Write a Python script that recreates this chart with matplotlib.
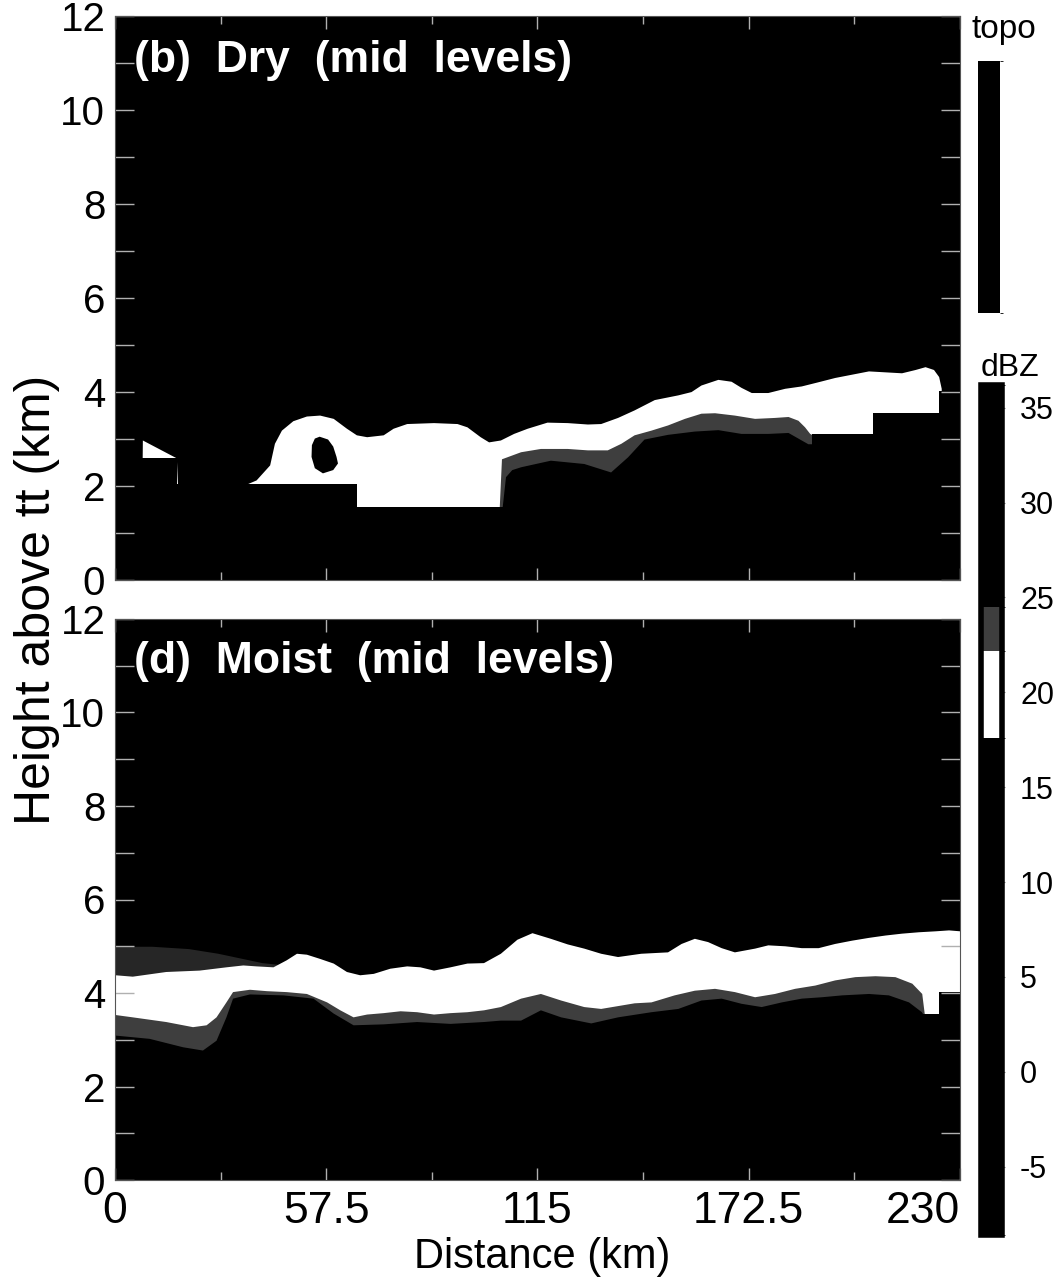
import matplotlib
matplotlib.use("Agg")
import matplotlib.pyplot as plt
from matplotlib.colors import ListedColormap, BoundaryNorm
from matplotlib.cm import ScalarMappable
from matplotlib.ticker import MultipleLocator

plt.rcParams['font.family'] = ['Liberation Sans', 'DejaVu Sans']

# ---------------------------------------------------------------------------
# Reflectivity classes (dBZ) and their grey shades
dbz_bounds = [-8.6, 17.6, 22.2, 24.5, 36.2]
dbz_colors = ['#000000', '#ffffff', '#3e3e3e', '#000000']
dbz_ticks = [-5, 0, 5, 10, 15, 20, 25, 30, 35]

# Terrain height (km) along the section, stepwise (value holds until next x)
topo_x = [0.0, 17.0, 66.0, 189.6, 206.4, 224.4, 230.0]
topo_z = [2.60, 2.04, 1.56, 3.10, 3.55, 4.03, 4.03]

# --- Dry case (mid levels) -------------------------------------------------
# upper edge of the weakest plotted echo class
dry_top_x = [0.0, 7.4, 7.45, 16.7, 17.0, 35.7, 38.4, 42.1, 43.4, 45.3, 48.4,
             52.1, 55.7, 59.4, 63.0, 65.7, 68.5, 73.0, 75.7, 79.4, 86.7, 93.1,
             95.8, 99.4, 101.7, 104.9, 108.5, 112.2, 117.6, 123.1, 128.6,
             132.2, 136.8, 141.3, 146.8, 153.2, 156.8, 159.5, 164.1, 167.7,
             170.4, 173.2, 177.7, 182.3, 186.8, 191.4, 195.9, 200.5, 205.1,
             209.6, 214.1, 217.8, 220.5, 222.8, 224.2, 224.9, 225.0, 230.0]
dry_top_z = [2.60, 2.60, 2.98, 2.60, 2.04, 2.04, 2.13, 2.45, 2.91, 3.19, 3.39,
             3.49, 3.51, 3.44, 3.23, 3.09, 3.05, 3.09, 3.23, 3.33, 3.35, 3.33,
             3.26, 3.05, 2.94, 2.98, 3.12, 3.23, 3.36, 3.35, 3.32,
             3.33, 3.46, 3.62, 3.84, 3.94, 4.01, 4.15, 4.27, 4.23,
             4.10, 3.99, 3.99, 4.08, 4.13, 4.22, 4.31, 4.38, 4.45,
             4.43, 4.41, 4.48, 4.54, 4.48, 4.33, 4.08, 3.00, 3.00]
# upper edge of the grey class
dry_mid_x = [104.6, 105.2, 110.4, 115.8, 123.1, 128.6, 134.0, 137.7, 141.3,
             145.9, 150.4, 155.0, 159.5, 163.2, 168.6, 174.1, 179.5, 183.2,
             185.9, 187.7, 189.1, 189.6]
dry_mid_z = [1.56, 2.58, 2.73, 2.80, 2.80, 2.77, 2.77, 2.91, 3.09,
             3.19, 3.30, 3.44, 3.55, 3.56, 3.51, 3.44, 3.46, 3.48,
             3.40, 3.26, 3.12, 3.10]
# upper edge of the strongest class
dry_low_x = [105.4, 106.3, 108.0, 110.4, 118.5, 127.6, 134.9, 139.5, 144.0,
             150.4, 157.7, 164.1, 170.4, 177.7, 183.2, 186.8, 188.6, 189.6]
dry_low_z = [1.56, 2.20, 2.35, 2.41, 2.55, 2.48, 2.30, 2.62, 3.00,
             3.10, 3.17, 3.20, 3.12, 3.12, 3.14, 2.98, 2.90, 2.90]
# embedded high-reflectivity core
dry_core_x = [55.7, 58.0, 59.4, 60.3, 60.7, 59.4, 56.6, 54.4, 53.5, 53.6, 54.4]
dry_core_z = [3.05, 2.99, 2.84, 2.62, 2.48, 2.34, 2.27, 2.38, 2.62, 2.87, 3.01]

# --- Moist case (mid levels) -----------------------------------------------
moist_upper_x = [0.0, 10.0, 20.0, 28.0, 34.0, 40.0, 46.0]
moist_upper_z = [5.00, 5.00, 4.95, 4.85, 4.75, 4.65, 4.60]
moist_top_x = [0.0, 4.7, 13.8, 22.9, 30.2, 34.8, 38.4, 43.0, 46.6, 49.4, 52.1,
               55.7, 59.4, 63.0, 66.6, 70.3, 74.8, 79.4, 83.0, 86.7, 91.2,
               95.8, 100.3, 104.9, 109.4, 113.5, 118.5, 123.1, 127.6, 132.2,
               136.8, 143.1, 150.4, 154.1, 157.7, 161.3, 165.0, 168.6, 174.1,
               177.7, 182.3, 186.8, 191.4, 195.9, 200.5, 205.1, 209.6, 214.1,
               218.7, 223.2, 226.9, 230.0]
moist_top_z = [4.39, 4.36, 4.46, 4.49, 4.56, 4.60, 4.58, 4.56, 4.71, 4.85, 4.83,
               4.74, 4.64, 4.46, 4.39, 4.42, 4.53, 4.58, 4.56, 4.49, 4.56,
               4.64, 4.65, 4.85, 5.15, 5.29, 5.17, 5.05, 4.96, 4.85,
               4.78, 4.85, 4.88, 5.06, 5.17, 5.10, 4.97, 4.88, 4.96,
               5.03, 5.01, 4.97, 4.97, 5.06, 5.13, 5.19, 5.24, 5.28,
               5.31, 5.33, 5.35, 5.33]
moist_mid_x = [0.0, 4.7, 13.8, 21.1, 24.8, 27.5, 30.2, 32.0, 36.6, 41.2, 46.6,
               52.1, 57.6, 61.2, 64.8, 68.5, 73.0, 77.6, 82.1, 86.7, 91.2,
               95.8, 100.3, 104.9, 110.4, 115.8, 121.3, 127.6, 132.2, 141.3,
               145.9, 152.2, 157.7, 163.2, 168.6, 174.1, 179.5, 185.0, 190.5,
               195.9, 201.4, 206.9, 212.3, 216.9, 219.6, 220.3, 224.45, 224.45,
               230.0]
moist_mid_z = [3.54, 3.49, 3.39, 3.28, 3.32, 3.49, 3.81, 4.03, 4.08, 4.05, 4.03,
               3.99, 3.81, 3.64, 3.49, 3.55, 3.58, 3.62, 3.60, 3.55, 3.58,
               3.60, 3.64, 3.71, 3.89, 3.99, 3.85, 3.71, 3.67, 3.79,
               3.81, 3.96, 4.06, 4.10, 4.03, 3.92, 3.99, 4.10, 4.17,
               4.28, 4.35, 4.37, 4.35, 4.21, 3.99, 3.55, 3.55, 4.03,
               4.03]
moist_low_x = [0.0, 9.3, 18.4, 23.8, 27.5, 30.2, 32.0, 36.6, 45.7, 53.9, 59.4,
               64.8, 73.0, 82.1, 91.2, 100.3, 104.9, 110.4, 115.8, 121.3, 129.5,
               136.8, 145.9, 153.2, 159.5, 165.0, 170.4, 175.9, 181.4, 186.8,
               192.3, 197.8, 205.1, 210.5, 216.0, 219.5, 220.3]
moist_low_z = [3.10, 3.03, 2.85, 2.78, 2.99, 3.49, 3.89, 3.98, 3.96, 3.89, 3.57,
               3.32, 3.34, 3.39, 3.35, 3.39, 3.42, 3.42, 3.64, 3.49, 3.36,
               3.49, 3.60, 3.67, 3.85, 3.89, 3.78, 3.71, 3.81, 3.89,
               3.92, 3.96, 3.99, 3.96, 3.81, 3.60, 3.50]

dist_ticks = [0, 57.5, 115, 172.5, 230]
dist_labels = ['0', '57.5', '115', '172.5', '230']

# ---------------------------------------------------------------------------
cmap = ListedColormap(dbz_colors)
norm = BoundaryNorm(dbz_bounds, cmap.N)
c_echo = cmap(norm(20.0))      # white class
c_mod = cmap(norm(23.5))       # grey class
c_strong = cmap(norm(30.0))    # strongest class
c_weak = cmap(norm(5.0))       # below the white class
c_upper = '#262626'
c_topo = '#000000'

fig = plt.figure(figsize=(10.55, 12.85), dpi=100)
ax_dry = fig.add_axes([0.1090, 0.5486, 0.8009, 0.4389])
ax_moist = fig.add_axes([0.1090, 0.0817, 0.8009, 0.4366])


def draw_section(ax, top_x, top_z, mid_x, mid_z, low_x, low_z,
                 upper=None, core=None):
    ax.set_facecolor(c_weak)
    if upper is not None:
        ax.fill_between(upper[0], upper[1], 0, color=c_upper, lw=0)
    ax.fill_between(top_x, top_z, 0, color=c_echo, lw=0)
    ax.fill_between(mid_x, mid_z, 0, color=c_mod, lw=0)
    ax.fill_between(low_x, low_z, 0, color=c_strong, lw=0)
    if core is not None:
        ax.fill(core[0], core[1], color=c_strong, lw=0)
    ax.fill_between(topo_x, topo_z, 0, step='post', color=c_topo, lw=0)

    ax.set_xlim(0, 230)
    ax.set_ylim(0, 12)
    ax.set_xticks(dist_ticks)
    ax.set_xticklabels(dist_labels)
    ax.xaxis.set_minor_locator(MultipleLocator(28.75))
    ax.yaxis.set_major_locator(MultipleLocator(2))
    ax.yaxis.set_minor_locator(MultipleLocator(1))
    ax.tick_params(which='both', direction='in', top=True, right=True,
                   color='#b0b0b0', width=1.0)
    ax.tick_params(axis='y', which='both', length=14, pad=7, labelsize=29)
    ax.tick_params(axis='x', which='major', length=9, pad=8, labelsize=32)
    ax.tick_params(axis='x', which='minor', length=6)
    for sp in ax.spines.values():
        sp.set_color('#555555')
        sp.set_linewidth(0.8)


draw_section(ax_dry, dry_top_x, dry_top_z, dry_mid_x, dry_mid_z,
             dry_low_x, dry_low_z, core=(dry_core_x, dry_core_z))
draw_section(ax_moist, moist_top_x, moist_top_z, moist_mid_x, moist_mid_z,
             moist_low_x, moist_low_z, upper=(moist_upper_x, moist_upper_z))

ax_dry.tick_params(axis='x', labelbottom=False)
ax_moist.get_xticklabels()[-1].set_horizontalalignment('right')

ax_dry.text(5.2, 11.05, '(b)  Dry  (mid  levels)', color='white',
            fontsize=32, fontweight='bold', va='center', ha='left')
ax_moist.text(5.2, 11.1, '(d)  Moist  (mid  levels)', color='white',
              fontsize=32, fontweight='bold', va='center', ha='left')

fig.text(0.035, 0.533, 'Height above tt (km)', rotation=90,
         ha='center', va='center', fontsize=36)
fig.text(0.514, 0.022, 'Distance (km)', ha='center', va='center', fontsize=30)

# terrain key
cax_topo = fig.add_axes([0.9270, 0.7564, 0.0209, 0.1961])
cb_topo = fig.colorbar(ScalarMappable(norm=BoundaryNorm([0, 1], 1),
                                      cmap=ListedColormap([c_topo])),
                       cax=cax_topo, ticks=[])
cb_topo.outline.set_visible(False)
fig.text(0.952, 0.977, 'topo', ha='center', va='center', fontsize=24)

# reflectivity key
cax_dbz = fig.add_axes([0.9299, 0.0389, 0.0199, 0.6615])
cb = fig.colorbar(ScalarMappable(norm=norm, cmap=cmap), cax=cax_dbz,
                  ticks=dbz_ticks, spacing='proportional')
cb.outline.set_edgecolor('black')
cb.outline.set_linewidth(4)
cb.ax.set_yticklabels([str(t) for t in dbz_ticks])
cb.ax.tick_params(labelsize=22, length=2, color='#888888', pad=11)
fig.text(0.957, 0.714, 'dBZ', ha='center', va='center', fontsize=23)

fig.savefig('out.png', dpi=100)
